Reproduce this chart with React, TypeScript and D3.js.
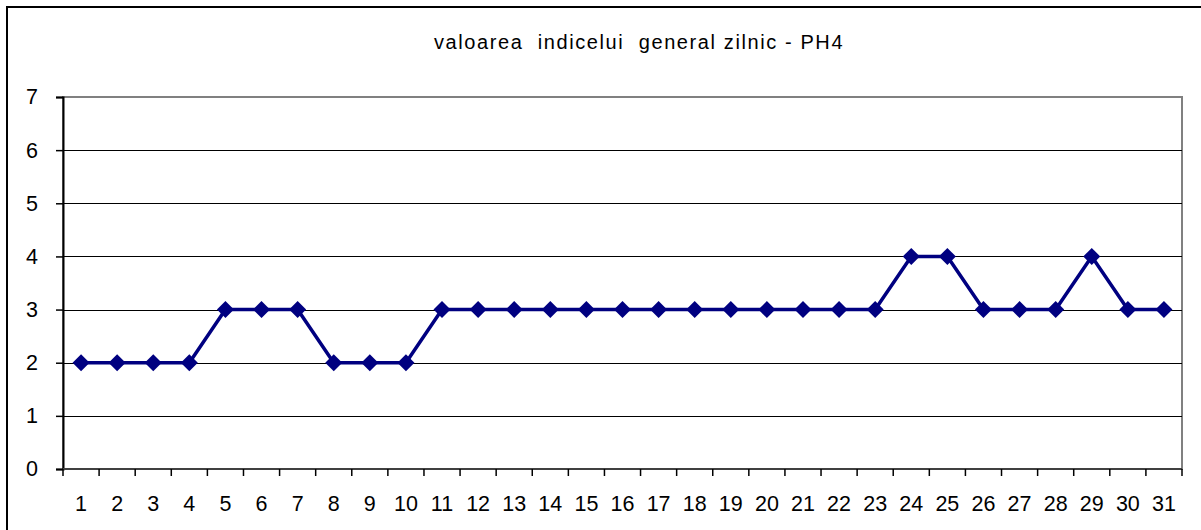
import React, { useEffect, useRef } from 'react';
import * as d3 from 'd3';

const days = d3.range(1, 32).map(String);
const values = [2, 2, 2, 2, 3, 3, 3, 2, 2, 2, 3, 3, 3, 3, 3, 3, 3, 3, 3, 3, 3, 3, 3, 4, 4, 3, 3, 3, 4, 3, 3];
const yTicks = [0, 1, 2, 3, 4, 5, 6, 7];
const title = 'valoarea  indicelui  general zilnic - PH4';

const App: React.FC = () => {
  const svgRef = useRef<SVGSVGElement>(null);

  useEffect(() => {
    if (!svgRef.current) return;
    const svg = d3.select(svgRef.current);
    svg.selectAll('*').remove();

    const width = 1201;
    const height = 530;
    const margin = { top: 97, right: 19, bottom: 61, left: 63 };
    const innerWidth = width - margin.left - margin.right;
    const innerHeight = height - margin.top - margin.bottom;
    const font = 'Liberation Sans, Arial, sans-serif';

    svg.append('rect').attr('width', width).attr('height', height).attr('fill', '#fff');

    // outer frame
    svg.append('rect')
      .attr('x', 7).attr('y', 7)
      .attr('width', width + 20).attr('height', height + 20)
      .attr('fill', 'none').attr('stroke', '#000').attr('stroke-width', 2);

    svg.append('text')
      .attr('x', 639).attr('y', 49)
      .attr('text-anchor', 'middle')
      .attr('font-family', font).attr('font-size', 20)
      .attr('letter-spacing', 1.6)
      .style('white-space', 'pre')
      .text(title);

    const g = svg.append('g').attr('transform', `translate(${margin.left},${margin.top})`);

    const x = d3.scaleBand().domain(days).range([0, innerWidth]);
    const y = d3.scaleLinear().domain([0, 7]).range([innerHeight, 0]);

    // plot area border
    g.append('rect')
      .attr('x', 0).attr('y', 0).attr('width', innerWidth).attr('height', innerHeight)
      .attr('fill', 'none').attr('stroke', '#808080').attr('stroke-width', 2);

    // gridlines
    g.selectAll('.grid')
      .data(yTicks.filter(t => t > 0 && t < 7))
      .enter().append('line')
      .attr('x1', 0).attr('x2', innerWidth)
      .attr('y1', d => Math.round(y(d)) + 0.5).attr('y2', d => Math.round(y(d)) + 0.5)
      .attr('stroke', '#000').attr('stroke-width', 1);

    // y axis
    const yAxis = g.append('g')
      .call(d3.axisLeft(y).tickValues(yTicks).tickSize(7).tickPadding(18).tickFormat(d3.format('d')));
    yAxis.select('.domain').attr('stroke', '#000').attr('stroke-width', 2);
    yAxis.selectAll('line').attr('stroke', '#000').attr('stroke-width', 1.5);
    yAxis.selectAll('text').attr('font-family', font).attr('font-size', 21.5).attr('fill', '#000');

    // x axis: ticks between categories
    const xAxis = g.append('g').attr('transform', `translate(0,${innerHeight})`);
    xAxis.append('line')
      .attr('x1', 0).attr('x2', innerWidth).attr('y1', 0).attr('y2', 0)
      .attr('stroke', '#404040').attr('stroke-width', 2);
    const bounds = days.map(d => x(d)!).concat([innerWidth]);
    xAxis.selectAll('.tick')
      .data(bounds)
      .enter().append('line')
      .attr('x1', d => d).attr('x2', d => d)
      .attr('y1', 0).attr('y2', 7)
      .attr('stroke', '#000').attr('stroke-width', 1.5);
    xAxis.selectAll('.lbl')
      .data(days)
      .enter().append('text')
      .attr('x', d => x(d)! + x.bandwidth() / 2)
      .attr('y', 42)
      .attr('text-anchor', 'middle')
      .attr('font-family', font).attr('font-size', 21.5)
      .text(d => d);

    const pts = values.map((v, i) => [x(days[i])! + x.bandwidth() / 2, y(v)] as [number, number]);

    g.append('path')
      .attr('d', d3.line()(pts))
      .attr('fill', 'none').attr('stroke', '#000080').attr('stroke-width', 3.5)
      .attr('stroke-linejoin', 'round');

    g.selectAll('.marker')
      .data(pts)
      .enter().append('path')
      .attr('d', 'M0,-8.5L8.5,0L0,8.5L-8.5,0Z')
      .attr('transform', d => `translate(${d[0]},${d[1]})`)
      .attr('fill', '#000080');
  }, []);

  return <svg ref={svgRef} width={1201} height={530} style={{ position: 'absolute', left: 0, top: 0 }} />;
};

export default App;
